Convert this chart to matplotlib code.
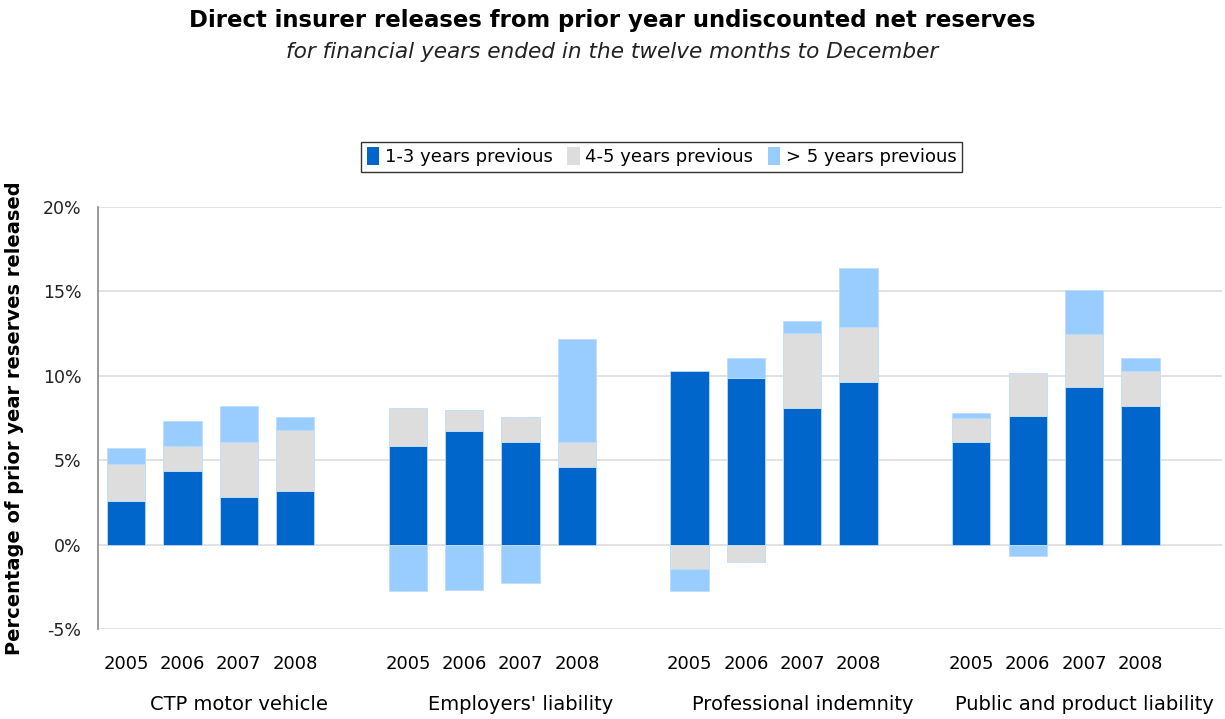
import numpy as np
import matplotlib
matplotlib.use("Agg")
import matplotlib.pyplot as plt
from matplotlib.ticker import FuncFormatter
from matplotlib.patches import Patch

# releases by age of reserve, % of prior year reserves
classes = ["CTP motor vehicle", "Employers' liability",
           "Professional indemnity", "Public and product liability"]
years = ["2005", "2006", "2007", "2008"]
series = ["1-3 years previous", "4-5 years previous", "> 5 years previous"]

y1_3 = [2.6, 4.35, 2.8, 3.2,
        5.85, 6.7, 6.05, 4.6,
        10.3, 9.85, 8.1, 9.65,
        6.05, 7.6, 9.35, 8.2]
y4_5 = [2.2, 1.5, 3.3, 3.6,
        2.25, 1.25, 1.5, 1.5,
        -1.45, -1.05, 4.45, 3.25,
        1.45, 2.55, 3.1, 2.1]
y5p = [0.95, 1.5, 2.1, 0.75,
       -2.75, -2.7, -2.3, 6.1,
       -1.3, 1.2, 0.7, 3.5,
       0.3, -0.7, 2.65, 0.75]

colors = ["#0066CC", "#DDDDDD", "#99CCFF"]

# four bars per class, one empty slot between classes
x = np.array([g * 5 + i for g in range(len(classes)) for i in range(len(years))], dtype=float)

fig = plt.figure(figsize=(12.25, 7.19), dpi=100)
ax = fig.add_axes([0.08, 0.1252, 0.9176, 0.5869])

pos_base = np.zeros(len(x))
neg_base = np.zeros(len(x))
for vals, c in zip([y1_3, y4_5, y5p], colors):
    v = np.array(vals)
    bottom = np.where(v >= 0, pos_base, neg_base)
    ax.bar(x, v, bottom=bottom, width=0.68, color=c, edgecolor="#BBDDFF",
           linewidth=0.6, zorder=3)
    pos_base += np.where(v >= 0, v, 0)
    neg_base += np.where(v < 0, v, 0)

ax.set_ylim(-5, 20)
ax.set_xlim(-0.5, 19.45)
ax.set_yticks(np.arange(-5, 21, 5))
ax.yaxis.set_major_formatter(FuncFormatter(lambda v, p: f"{v:.0f}%"))
ax.grid(axis="y", color="#DDDDDD", linewidth=1.2, zorder=0)
for s in ["top", "right", "bottom"]:
    ax.spines[s].set_visible(False)
ax.spines["left"].set_color("#888888")
ax.spines["left"].set_linewidth(1.2)

ax.set_xticks(x)
ax.set_xticklabels(years * len(classes))
ax.tick_params(axis="x", length=0, pad=19, labelsize=13)
ax.tick_params(axis="y", length=0, pad=12, labelsize=12.5, labelcolor="#222222")

for g, name in enumerate(classes):
    ax.text(g * 5 + 2, -0.18, name, transform=ax.get_xaxis_transform(),
            ha="center", va="center", fontsize=14)

ax.set_ylabel("Percentage of prior year reserves released", fontsize=14,
              fontweight="bold")
ax.yaxis.set_label_coords(-0.066, 0.5)

fig.text(0.5, 0.972, "Direct insurer releases from prior year undiscounted net reserves",
         ha="center", va="center", fontsize=16.4, fontweight="bold")
fig.text(0.5, 0.927, "for financial years ended in the twelve months to December",
         ha="center", va="center", fontsize=15.6, style="italic", color="#222222")

handles = [Patch(facecolor=c, edgecolor="none") for c in colors]
leg = fig.legend(handles, series, loc="center", bbox_to_anchor=(0.540, 0.782),
                 ncol=3, frameon=True, fancybox=False, fontsize=13,
                 handlelength=0.7, handleheight=1.1, handletextpad=0.3,
                 columnspacing=0.8, borderpad=0.3, borderaxespad=0)
leg.get_frame().set_edgecolor("black")
leg.get_frame().set_linewidth(1.0)

fig.savefig("out.png", dpi=100)
